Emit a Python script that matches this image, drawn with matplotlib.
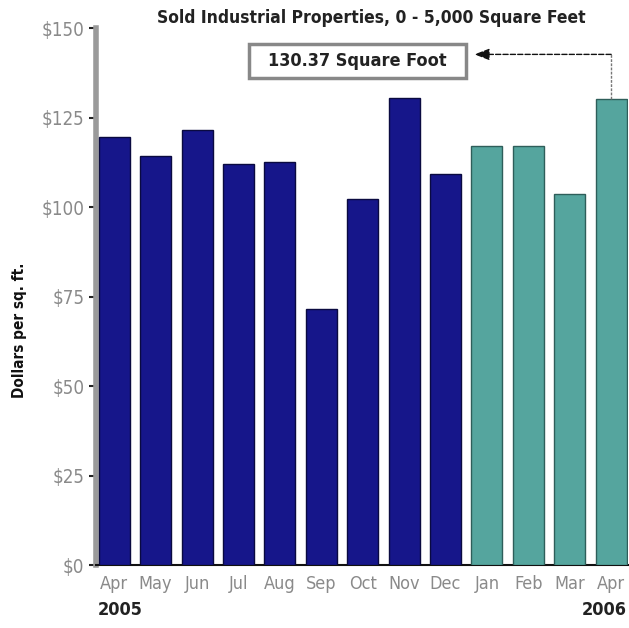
import matplotlib
matplotlib.use("Agg")
import matplotlib.pyplot as plt
from matplotlib.patches import Rectangle

months = ["Apr", "May", "Jun", "Jul", "Aug", "Sep", "Oct", "Nov", "Dec", "Jan", "Feb", "Mar", "Apr"]
values = [119.5, 114.2, 121.5, 112.0, 112.6, 71.5, 102.4, 130.5, 109.3, 117.0, 117.0, 103.6, 130.37]
year_2005 = [True] * 9 + [False] * 4
yticks = [0, 25, 50, 75, 100, 125, 150]
ytick_labels = ["$0", "$25", "$50", "$75", "$100", "$125", "$150"]
title = "Sold Industrial Properties, 0 - 5,000 Square Feet"
ylabel = "Dollars per sq. ft."
callout = "130.37 Square Foot"

FONT = dict(family="DejaVu Sans", fontstretch="condensed")

fig = plt.figure(figsize=(6.29, 6.28), dpi=100)
ax = fig.add_axes([0.152, 0.100, 0.846, 0.855])

colors = ["#16168a" if y else "#55a59e" for y in year_2005]
edges = ["#0a0a40" if y else "#2e5e5a" for y in year_2005]
x = list(range(len(months)))
ax.bar(x, values, width=0.75, color=colors, edgecolor=edges, linewidth=1.0, zorder=3)

ax.set_xlim(-0.45, 12.4)
ax.set_ylim(0, 150)
ax.set_yticks(yticks)
ax.set_yticklabels(ytick_labels, fontsize=13.5, color="#8a8a8a", **FONT)
ax.set_xticks(x)
ax.set_xticklabels(months, fontsize=13, color="#8a8a8a", **FONT)
ax.tick_params(axis="y", length=5, width=1.5, color="#222222", pad=3)
ax.tick_params(axis="x", length=0, pad=7)

for s in ["top", "right"]:
    ax.spines[s].set_visible(False)
ax.spines["left"].set_color("#9a9a9a")
ax.spines["left"].set_linewidth(4)
ax.spines["bottom"].set_color("#111111")
ax.spines["bottom"].set_linewidth(1.5)

ax.set_ylabel(ylabel, fontsize=11, fontweight="bold", color="#111111", **FONT)
ax.yaxis.set_label_coords(-0.128, 0.437)
fig.text(0.59, 0.971, title, ha="center", va="center", fontsize=12.5,
         fontweight="bold", color="#222222", **FONT)

# year labels
ax.text(-0.4, -0.067, "2005", transform=ax.get_xaxis_transform(), ha="left", va="top",
        fontsize=13, fontweight="bold", color="#222222", **FONT)
ax.text(12.38, -0.067, "2006", transform=ax.get_xaxis_transform(), ha="right", va="top",
        fontsize=13, fontweight="bold", color="#222222", **FONT)

# callout box and arrow
ax.add_patch(Rectangle((3.26, 136.0), 5.24, 9.5, fc="white", ec="#888888", lw=2.5,
                       zorder=4, clip_on=False))
ax.text(5.88, 140.9, callout, ha="center", va="center", fontsize=13,
        fontweight="bold", color="#222222", zorder=5, **FONT)
ax.plot([12, 12], [values[-1], 142.7], color="#777777", lw=1, ls=(0, (2, 1)), zorder=4,
        clip_on=False)
ax.annotate("", xy=(8.7, 142.7), xytext=(12, 142.7),
            arrowprops=dict(arrowstyle="-|>,head_length=0.9,head_width=0.35",
                            color="#111111", lw=1, ls="--", shrinkA=0, shrinkB=0))

fig.savefig("out.png", dpi=100)
